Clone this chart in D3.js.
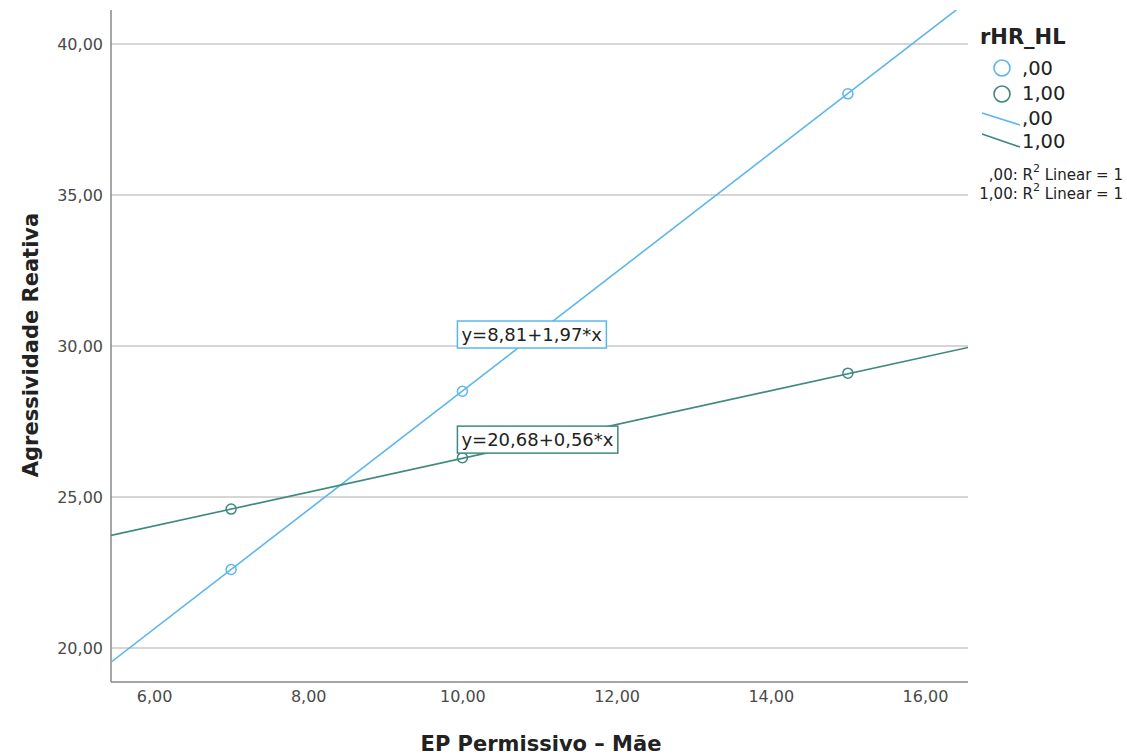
<!DOCTYPE html>
<html><head><meta charset="utf-8">
<script src="https://cdn.jsdelivr.net/npm/d3@7"></script>
<style>body{margin:0;background:#fff;} text{font-family:"DejaVu Sans",sans-serif;}</style>
</head><body><svg id="c" width="1127" height="756"></svg>
<script>
const xValues = [7, 10, 15];
const seriesNames = [",00", "1,00"];
const yBlue = [22.6, 28.5, 38.35];
const yGreen = [24.6, 26.3, 29.1];
const intercepts = [8.81, 20.68];
const slopes = [1.97, 0.56];
const equations = ["y=8,81+1,97*x", "y=20,68+0,56*x"];
const r2Labels = [",00: R² Linear = 1", "1,00: R² Linear = 1"];
const xTicks = [6, 8, 10, 12, 14, 16];
const yTicks = [20, 25, 30, 35, 40];
const colors = ["#5cb6ee", "#3f8a80"];

const svg = d3.select("#c");
const L = 111, T = 10, R = 968, B = 682;
const x = d3.scaleLinear().domain([5.442, 16.558]).range([L, R]);
const y = d3.scaleLinear().domain([18.874, 41.126]).range([B, T]);
const fmt = d => d3.format(".2f")(d).replace(".", ",");

// grid
svg.append("g").selectAll("line").data(yTicks).join("line")
  .attr("x1", L).attr("x2", R).attr("y1", d => y(d)).attr("y2", d => y(d))
  .attr("stroke", "#c8c8c8").attr("stroke-width", 1.5);

// axes
const yAxis = svg.append("g").attr("transform", `translate(${L},0)`)
  .call(d3.axisLeft(y).tickValues(yTicks).tickFormat(fmt).tickSize(0).tickPadding(8));
yAxis.select(".domain").remove();
yAxis.selectAll("text").attr("font-size", 16).attr("fill", "#4a4a4a").attr("font-family", "DejaVu Sans");
const xAxis = svg.append("g").attr("transform", `translate(0,${B})`)
  .call(d3.axisBottom(x).tickValues(xTicks).tickFormat(fmt).tickSize(0).tickPadding(9));
xAxis.select(".domain").remove();
xAxis.selectAll("text").attr("font-size", 16).attr("fill", "#4a4a4a").attr("font-family", "DejaVu Sans");

svg.append("line").attr("x1", L).attr("x2", L).attr("y1", T).attr("y2", B).attr("stroke", "#888").attr("stroke-width", 1.5);
svg.append("line").attr("x1", L).attr("x2", R).attr("y1", B).attr("y2", B).attr("stroke", "#888").attr("stroke-width", 1.5);

// clip
svg.append("clipPath").attr("id", "clip").append("rect").attr("x", L).attr("y", T).attr("width", R - L).attr("height", B - T);
const plot = svg.append("g").attr("clip-path", "url(#clip)");

const series = [yBlue, yGreen];
// fit lines
[0, 1].forEach(i => {
  const xs = x.domain();
  plot.append("line")
    .attr("x1", x(xs[0])).attr("y1", y(intercepts[i] + slopes[i] * xs[0]))
    .attr("x2", x(xs[1])).attr("y2", y(intercepts[i] + slopes[i] * xs[1]))
    .attr("stroke", colors[i]).attr("stroke-width", 1.6);
});
// points
[0, 1].forEach(i => {
  plot.append("g").selectAll("circle").data(xValues).join("circle")
    .attr("cx", d => x(d)).attr("cy", (d, j) => y(series[i][j])).attr("r", 5)
    .attr("fill", "none").attr("stroke", colors[i]).attr("stroke-width", 1.5);
});

// equation boxes
const boxes = [{x: 10, y: 30.33}, {x: 10, y: 26.85}];
[0, 1].forEach(i => {
  const g = svg.append("g");
  const t = g.append("text").attr("x", x(boxes[i].x) - 1).attr("y", y(boxes[i].y))
    .attr("dominant-baseline", "middle").attr("font-size", 18).attr("fill", "#222").text(equations[i]);
  const bb = t.node().getBBox();
  g.insert("rect", "text").attr("x", bb.x - 4).attr("y", bb.y - 3).attr("width", bb.width + 8).attr("height", bb.height + 6)
    .attr("fill", "#fff").attr("stroke", colors[i]).attr("stroke-width", 1.5);
});

// legend
const lg = svg.append("g");
lg.append("text").attr("x", 980).attr("y", 44).attr("font-size", 21).attr("font-weight", "bold").attr("fill", "#222").text("rHR_HL");
[0, 1].forEach(i => {
  lg.append("circle").attr("cx", 1002).attr("cy", 68 + i * 26).attr("r", 8)
    .attr("fill", "none").attr("stroke", colors[i]).attr("stroke-width", 1.6);
  lg.append("text").attr("x", 1022).attr("y", 69 + i * 25).attr("dominant-baseline", "middle")
    .attr("font-size", 19.5).attr("fill", "#222").text(seriesNames[i]);
  lg.append("line").attr("x1", 982).attr("y1", 113 + i * 21).attr("x2", 1020).attr("y2", 125 + i * 22)
    .attr("stroke", colors[i]).attr("stroke-width", 1.6);
  lg.append("text").attr("x", 1022).attr("y", 119 + i * 23).attr("dominant-baseline", "middle")
    .attr("font-size", 19.5).attr("fill", "#222").text(seriesNames[i]);
  const rt = lg.append("text").attr("x", 1123).attr("y", 175 + i * 19).attr("dominant-baseline", "middle")
    .attr("text-anchor", "end").attr("font-size", 15).attr("fill", "#222");
  const parts = r2Labels[i].split("²");
  rt.append("tspan").text(parts[0]);
  rt.append("tspan").attr("dy", -6).attr("font-size", 11).text("2");
  rt.append("tspan").attr("dy", 6).text(parts[1]);
});

// axis titles
svg.append("text").attr("transform", "translate(38,345) rotate(-90)").attr("text-anchor", "middle")
  .attr("font-size", 21).attr("font-weight", "bold").attr("fill", "#222").text("Agressividade Reativa");
svg.append("text").attr("x", 541).attr("y", 751).attr("text-anchor", "middle")
  .attr("font-size", 21).attr("font-weight", "bold").attr("fill", "#222").text("EP Permissivo – Mãe");
</script></body></html>
